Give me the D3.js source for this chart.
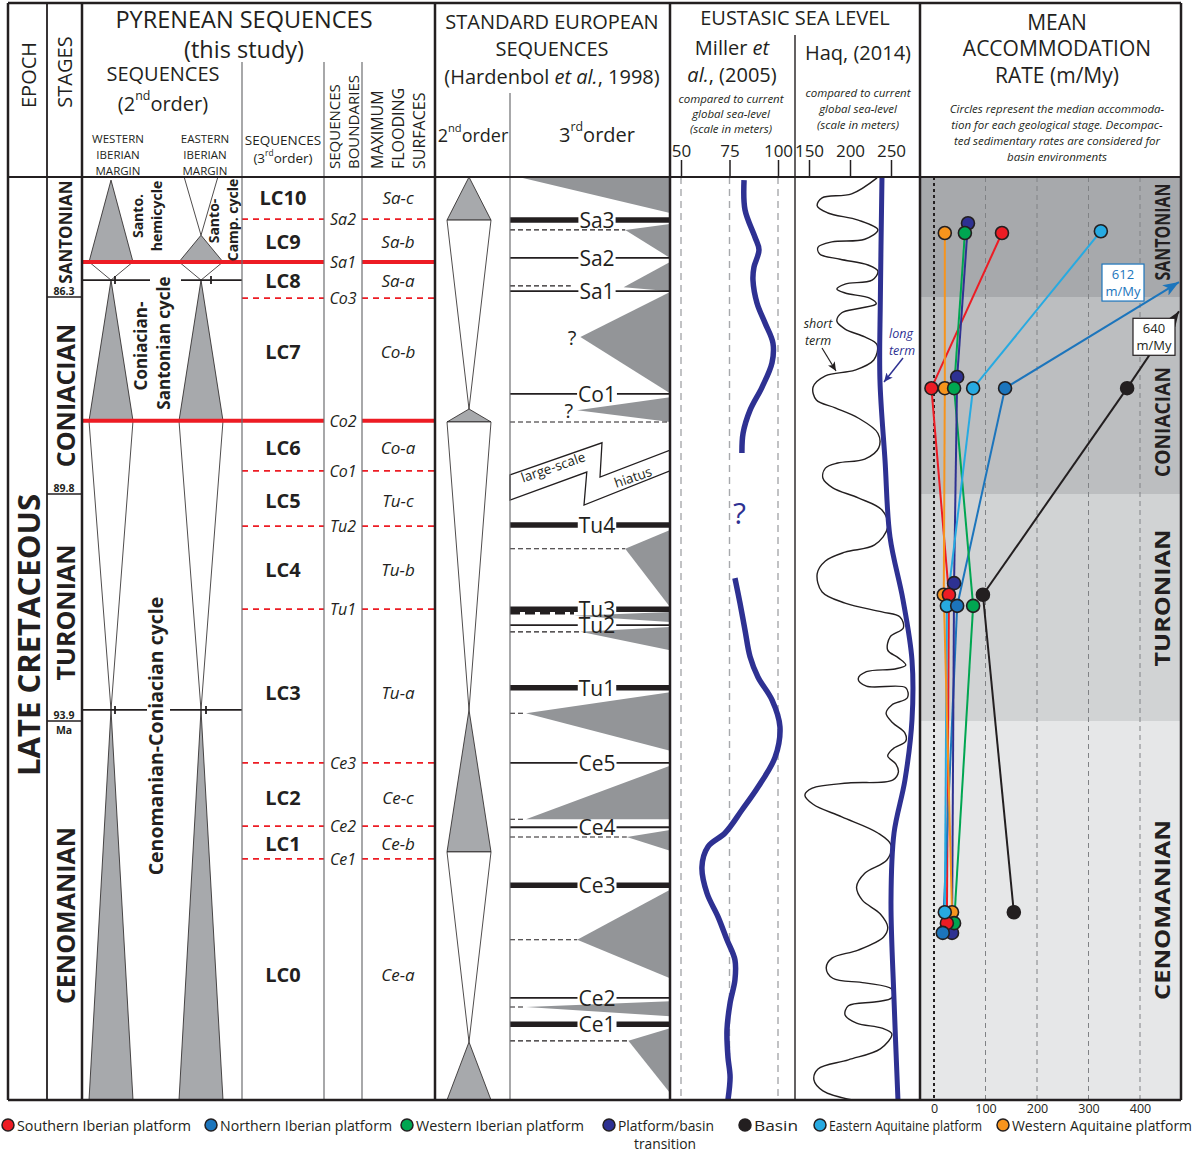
<!DOCTYPE html>
<html>
<head>
<meta charset="utf-8">
<script src="https://cdn.jsdelivr.net/npm/d3@7/dist/d3.min.js"></script>
<style>
html,body{margin:0;padding:0;background:#fff;}
svg{display:block;}
</style>
</head>
<body>
<svg id="chart" width="1200" height="1154"></svg>
<script>
// ====================== DATA (ages in Ma) ======================
const stageNames = ["SANTONIAN","CONIACIAN","TURONIAN","CENOMANIAN"];
const stageTopAges = [83.6, 86.3, 89.8, 93.9];
const stageBaseAges = [86.3, 89.8, 93.9, 100.5];
const stageBoundaryLabels = ["86.3","89.8","93.9"];

// Pyrenean 3rd-order sequences
const pyrSequenceNames = ["LC10","LC9","LC8","LC7","LC6","LC5","LC4","LC3","LC2","LC1","LC0"];
const pyrMfsNames = ["Sa-c","Sa-b","Sa-a","Co-b","Co-a","Tu-c","Tu-b","Tu-a","Ce-c","Ce-b","Ce-a"];
const pyrMfsAges = [84.05,85.04,85.92,87.26,88.96,89.90,91.15,93.38,95.22,96.02,98.31];
const pyrBoundaryNames = ["Sa2","Sa1","Co3","Co2","Co1","Tu2","Tu1","Ce3","Ce2","Ce1"];
const pyrBoundaryAges = [84.55,85.51,86.32,88.50,89.39,90.38,91.88,94.63,95.73,96.30];
const pyrBoundaryMajor = [false,true,false,true,false,false,false,false,false,false];
// Pyrenean 2nd-order hemicycles [topAge, baseAge, kind] T = transgressive (grey), R = regressive (white)
const pyr2ndWestern = [[83.67,85.51,"T"],[85.51,85.92,"R"],[85.92,88.50,"T"],[88.50,93.70,"R"],[93.70,100.5,"T"]];
const pyr2ndEastern = [[83.2,84.91,"R"],[84.91,85.51,"T"],[85.51,85.92,"R"],[85.92,88.50,"T"],[88.50,93.70,"R"],[93.70,100.5,"T"]];
const pyr2ndTurnAges = [85.92, 93.70];

// Standard European sequences (Hardenbol et al., 1998)
const std2nd = [[83.6,84.57,"T"],[84.57,88.29,"R"],[88.29,88.52,"T"],[88.52,93.70,"R"],[93.70,96.18,"T"],[96.18,99.49,"R"],[99.49,100.5,"T"]];
const stdBoundaryNames = ["Sa3","Sa2","Sa1","Co1","Tu4","Tu3","Tu2","Tu1","Ce5","Ce4","Ce3","Ce2","Ce1"];
const stdBoundaryAges = [84.57,85.42,86.17,88.02,90.36,91.88,92.17,93.30,94.63,95.75,96.76,98.72,99.18];
const stdBoundaryMajor = [1,0,0,0,1,1,0,1,0,0,1,0,1];
const stdMfsAges = [84.79,86.05,88.52,90.79,91.95,92.29,93.76,95.61,95.92,97.71,98.88,99.47];
const stdMfsReach = [0.72,0.38,1,0.72,0.40,0.44,0.10,0.10,0.73,0.42,0.10,0.74];
const stdMfsHeavy = [0,0,0,0,1,0,0,0,0,0,0,0];
const stdWedgeApexAge = [83.62,84.79,86.08,87.01,88.31,90.79,92.00,92.29,93.76,95.61,95.92,97.71,98.88,99.47];
const stdWedgeApexPos = [0.08,0.72,0.71,0.44,0.42,0.72,0.40,0.44,0.10,0.10,0.73,0.42,0.10,0.74];
const stdWedgeTopAge  = [83.62,84.66,85.51,86.19,88.08,90.45,91.93,92.20,93.38,94.68,95.80,96.84,98.78,99.25];
const stdWedgeBaseAge = [84.41,85.42,86.17,88.01,88.52,91.84,92.11,92.62,94.42,95.61,96.16,98.38,99.04,100.38];
const stdWedgeUncertain = [0,0,0,1,1,0,0,0,0,0,0,0,0,0];
const stdHiatusPos = [0,0.575,0.5625,1,1,0.4625,0.48,0];
const stdHiatusAge = [89.46,88.89,89.50,89.02,89.39,90.00,89.41,89.91];

// Eustatic sea level, Miller et al. (2005)
const millerTicks = [50,75,100];
const millerUpperAge   = [83.67,84.34,84.95,85.24,85.63,85.92,86.41,86.76,87.12,87.47,87.90,88.31,88.72,89.07];
const millerUpperValue = [82.5,83.0,88.1,90.2,87.6,87.1,89.2,93.3,97.4,96.9,91.8,85.6,82.0,81.4];
const millerLowerAge   = [91.32,91.77,92.26,92.74,93.11,93.52,94.00,94.53,95.05,95.45,95.85,96.09,96.44,96.90,97.31,97.71,98.06,98.41,98.81,99.28,99.75,100.10,100.5];
const millerLowerValue = [77.8,80.4,83.0,85.6,89.7,96.9,101.0,98.5,89.7,81.4,72.7,63.9,60.8,63.4,69.1,73.7,77.8,77.8,75.3,73.7,74.2,75.3,74.2];

// Eustatic sea level, Haq (2014)
const haqTicks = [150,200,250];
const haqLongAge   = [83.62,86.35,87.77,89.20,90.58,91.71,92.80,93.88,94.93,95.85,97.02,98.76,100.5];
const haqLongValue = [239,237,236.5,242.7,248.8,264.6,275.6,275.6,267,253.7,250,253.7,258.5];
const haqShortAge = [83.62,83.98,84.07,84.25,84.41,84.57,84.79,85.00,85.06,85.18,85.33,85.45,85.58,85.72,85.92,86.01,86.12,86.21,86.32,86.42,86.50,86.58,86.73,86.87,87.01,87.15,87.42,87.60,87.70,87.90,88.13,88.27,88.45,88.72,88.98,89.18,89.25,89.34,89.52,89.69,89.87,90.09,90.40,90.72,90.85,91.01,91.24,91.57,91.77,91.93,92.02,92.22,92.38,92.62,92.76,92.89,92.96,93.01,93.14,93.27,93.30,93.48,93.61,93.76,93.93,94.11,94.25,94.39,94.51,94.65,94.79,94.93,94.98,95.07,95.19,95.35,95.57,95.85,96.06,96.32,96.55,96.79,97.02,97.26,97.49,97.66,97.89,98.03,98.20,98.38,98.46,98.57,98.72,98.79,98.86,99.02,99.16,99.25,99.35,99.61,99.80,99.96,100.15,100.34,100.5];
const haqShortValue = [233,202,166,160,173,210,234,218,178,161,163,188,222,234,227,194,184,194,224,232,212,190,184,194,218,233,229,206,170,155,159,182,210,234,235,218,185,170,167,179,210,239,246,230,194,170,160,166,194,239,261,265,249,246,259,268,255,220,210,220,268,270,251,244,252,267,268,252,246,256,259,252,198,154,145,155,190,234,250,245,218,208,215,237,246,241,210,178,171,179,218,251,251,232,198,194,208,239,251,237,198,161,156,167,203];

// Mean accommodation rate (m/My), per stage: Cenomanian, Turonian, Coniacian, Santonian
const accTicks = [0,100,200,300,400];
const accSeriesNames = ["Southern Iberian platform","Northern Iberian platform","Western Iberian platform","Platform/basin transition","Basin","Eastern Aquitaine platform","Western Aquitaine platform"];
const accSeriesColors = ["#ed1c24","#1c75bc","#00a651","#2e3192","#231f20","#27aae1","#f7941d"];
const accSouthernIberian = [25,29,-5,132];
const accNorthernIberian = [17,45,138,612];
const accWesternIberian  = [39,76,39,60];
const accPlatformBasin   = [35,39,45,66];
const accBasin           = [155,95,375,640];
const accEasternAquitaine= [21,25,76,324];
const accWesternAquitaine= [35,19,21,21];
const accSouthernIberianAge = [97.42,91.62,87.92,84.86];
const accNorthernIberianAge = [97.59,91.82,87.92,85.0];
const accWesternIberianAge  = [97.42,91.82,87.92,84.86];
const accPlatformBasinAge   = [97.59,91.41,87.72,84.64];
const accBasinAge           = [97.23,91.62,87.92,83.8];
const accEasternAquitaineAge= [97.23,91.82,87.92,84.82];
const accWesternAquitaineAge= [97.23,91.62,87.92,84.86];

// ====================== DRAWING ======================
const FONT = "'Open Sans','Noto Sans',sans-serif";
const INK = "#231f20";
const svg = d3.select("#chart").attr("font-family", FONT);

const TOP = 3, HEAD = 177, BOT = 1100, LEFT = 8, RIGHT = 1181;
const y = d3.scaleLinear().domain([stageTopAges[0], ...stageBaseAges]).range([HEAD, 297, 494, 721, BOT]);
const xm = d3.scaleLinear().domain([50,100]).range([681,778]);
const xh = d3.scaleLinear().domain([150,250]).range([809,891]);
const xa = d3.scaleLinear().domain([0,400]).range([934,1140]);

const defs = svg.append("defs");
defs.append("clipPath").attr("id","bodyClip").append("rect").attr("x",LEFT).attr("y",HEAD).attr("width",RIGHT-LEFT).attr("height",BOT-HEAD);
function marker(id, color, w, h) {
  defs.append("marker").attr("id",id).attr("viewBox",`0 0 ${w} ${h}`).attr("refX",w).attr("refY",h/2)
    .attr("markerWidth",w).attr("markerHeight",h).attr("markerUnits","userSpaceOnUse").attr("orient","auto")
    .append("path").attr("d",`M0,0L${w},${h/2}L0,${h}L${w*0.25},${h/2}Z`).attr("fill",color);
}

function T(p, x, yy, s, o = {}) {
  const size = o.size || 14;
  const t = p.append("text").attr("x", x).attr("y", yy)
    .attr("text-anchor", o.anchor || "middle")
    .attr("dominant-baseline", o.base || "central")
    .attr("font-size", size)
    .attr("font-weight", o.bold ? 700 : 400)
    .attr("font-style", o.italic ? "italic" : "normal")
    .attr("fill", o.fill || INK);
  if (o.family) t.attr("font-family", o.family);
  if (o.rot) t.attr("transform", `rotate(${o.rot},${x},${yy})`);
  if (o.len) t.attr("textLength", o.len).attr("lengthAdjust", "spacingAndGlyphs");
  const parts = Array.isArray(s) ? s : [{t: s}];
  let shift = 0;
  parts.forEach(pp => {
    const ts = t.append("tspan").text(pp.t);
    if (pp.i) ts.attr("font-style", "italic");
    if (pp.sup) { ts.attr("font-size", size*0.62).attr("dy", -size*0.42); shift = size*0.42; }
    else if (shift) { ts.attr("dy", shift); shift = 0; }
  });
  return t;
}
function line(p, x1, y1, x2, y2, stroke, w, dash) {
  const l = p.append("line").attr("x1",x1).attr("y1",y1).attr("x2",x2).attr("y2",y2)
    .attr("stroke",stroke).attr("stroke-width",w);
  if (dash) l.attr("stroke-dasharray",dash);
  return l;
}

const bg = svg.append("g");
const gc = svg.append("g").attr("clip-path","url(#bodyClip)");
const fg = svg.append("g");

// ---------- accommodation panel background ----------
const bandColors = ["#a7a9ac","#bcbec0","#d1d3d4","#e6e7e8"];
stageNames.forEach((s,i)=>{
  bg.append("rect").attr("x",920).attr("y",y(stageTopAges[i])).attr("width",RIGHT-920)
    .attr("height",y(stageBaseAges[i])-y(stageTopAges[i])).attr("fill",bandColors[i]);
});

// ---------- stages column ----------
const stageLabelSize = [17,25,25,25];
const stageLabelShift = [-5,0,5,5];
stageNames.forEach((s,i)=>{
  const yc = (y(stageTopAges[i])+y(stageBaseAges[i]))/2 + stageLabelShift[i];
  T(fg, 65, yc, s, {size:stageLabelSize[i], bold:1, rot:-90});
});
stageBoundaryLabels.forEach((s,i)=>{
  const yb = y(stageBaseAges[i]);
  line(fg, 47, yb, 82, yb, INK, 1.5);
  T(fg, 64, yb-6, s, {size:10.5, bold:1});
  if (i===2) T(fg, 64, yb+9, "Ma", {size:10.5, bold:1});
});
T(fg, 28, 635, "LATE CRETACEOUS", {size:30, bold:1, rot:-90, len:282});

// ---------- Pyrenean 2nd order ----------
function hemi(p, data, cx, hw, grey) {
  data.forEach(([t,b,k])=>{
    const y0=y(t), y1=y(b);
    const pts = k==="T" ? [[cx,y0],[cx-hw,y1],[cx+hw,y1]] : [[cx-hw,y0],[cx+hw,y0],[cx,y1]];
    p.append("polygon").attr("points",pts.map(d=>d.join(",")).join(" "))
      .attr("fill", k==="T"?grey:"#fff").attr("stroke",INK).attr("stroke-width",0.8);
  });
}
hemi(gc, pyr2ndWestern, 111, 22, "#a7a9ac");
hemi(gc, pyr2ndEastern, 201, 22, "#a7a9ac");
const turnGaps = [[150,181],[147,170]];
pyr2ndTurnAges.forEach((a,i)=>{
  const yy=y(a);
  line(gc, 82, yy, turnGaps[i][0], yy, INK, 1.8);
  line(gc, turnGaps[i][1], yy, 242, yy, INK, 1.8);
  line(gc, 115, yy-4, 115, yy+4, INK, 1.8);
  line(gc, i===0?211:206, yy-4, i===0?211:206, yy+4, INK, 1.8);
});
T(fg,137,216,"Santo.",{size:14,bold:1,rot:-90});
T(fg,156,216,"hemicycle",{size:14,bold:1,rot:-90});
T(fg,213,221,"Santo-",{size:14,bold:1,rot:-90});
T(fg,232,220,"Camp. cycle",{size:14,bold:1,rot:-90});
T(fg,140,346,"Coniacian-",{size:17,bold:1,rot:-90});
T(fg,163,343,"Santonian cycle",{size:17,bold:1,rot:-90});
T(fg,155,736,"Cenomanian-Coniacian cycle",{size:19.5,bold:1,rot:-90});

// ---------- Pyrenean 3rd order, boundaries, MFS ----------
pyrBoundaryAges.forEach((a,i)=>{
  const yy=y(a);
  if (pyrBoundaryMajor[i]) {
    line(gc, 82, yy, 324, yy, "#ed1c24", 4);
    line(gc, 362, yy, 435, yy, "#ed1c24", 4);
  } else {
    line(gc, 242, yy, 324, yy, "#ed1c24", 1.8, "6,5");
    line(gc, 362, yy, 435, yy, "#ed1c24", 1.8, "6,5");
  }
  T(fg, 343, yy, pyrBoundaryNames[i], {size:16, italic:1});
});
pyrSequenceNames.forEach((s,i)=>{
  T(fg, 283, y(pyrMfsAges[i]), s, {size:20, bold:1});
  T(fg, 398, y(pyrMfsAges[i]), pyrMfsNames[i], {size:17, italic:1});
});

// ---------- Standard European 2nd order ----------
hemi(gc, std2nd, 469, 22, "#a7a9ac");

// ---------- Standard European 3rd order ----------
const s3x = d3.scaleLinear().domain([0,1]).range([510,670]);
stdWedgeApexAge.forEach((a,i)=>{
  const pts=[[s3x(stdWedgeApexPos[i]),y(a)],[670,y(stdWedgeTopAge[i])],[670,y(stdWedgeBaseAge[i])]];
  gc.append("polygon").attr("points",pts.map(d=>d.join(",")).join(" ")).attr("fill","#939598");
  if (stdWedgeUncertain[i]) T(gc, s3x(stdWedgeApexPos[i])-4, y(a), "?", {size:20, anchor:"end"});
});
stdMfsAges.forEach((a,i)=>{
  line(gc, 510, y(a), s3x(stdMfsReach[i]), y(a), INK, stdMfsHeavy[i]?3:1.1, stdMfsHeavy[i]?"10,5":"5,3");
});
stdBoundaryAges.forEach((a,i)=>{
  const yy=y(a);
  const t = T(gc, 597, yy, stdBoundaryNames[i], {size:21});
  const w = t.node().getComputedTextLength();
  const lw = stdBoundaryMajor[i] ? 5.5 : 1.8;
  line(gc, 510, yy, 597-w/2-1, yy, INK, lw);
  line(gc, 597+w/2+1, yy, 670, yy, INK, lw);
});
gc.append("polygon").attr("points", stdHiatusAge.map((a,i)=>[s3x(stdHiatusPos[i]),y(a)].join(",")).join(" "))
  .attr("fill","#fff").attr("stroke",INK).attr("stroke-width",1.3);
T(gc, 553, 467, "large-scale", {size:13.5, rot:-19});
T(gc, 633, 477, "hiatus", {size:13.5, rot:-19});

// ---------- Miller sea level ----------
millerTicks.forEach(v=> line(gc, xm(v), HEAD, xm(v), BOT, "#a7a9ac", 1.4, "7,5"));
const mLine = d3.line().x(d=>xm(d[1])).y(d=>y(d[0])).curve(d3.curveCatmullRom.alpha(0.5));
[[millerUpperAge,millerUpperValue],[millerLowerAge,millerLowerValue]].forEach(([A,V])=>{
  gc.append("path").attr("d", mLine(A.map((a,i)=>[a,V[i]]))).attr("fill","none").attr("stroke","#2e3192").attr("stroke-width",5.5);
});
const gapAge = (millerUpperAge[millerUpperAge.length-1]+millerLowerAge[0])/2;
const gapVal = (millerUpperValue[millerUpperValue.length-1]+millerLowerValue[0])/2;
T(gc, xm(gapVal)+1, y(gapAge)-4, "?", {size:30, fill:"#2e3192"});
const axM = fg.append("g").attr("transform",`translate(0,${HEAD})`)
  .call(d3.axisTop(xm).tickValues(millerTicks).tickSize(17).tickPadding(3));
axM.attr("font-family",FONT).attr("font-size",17);
axM.select(".domain").remove();
axM.selectAll("line").attr("stroke",INK).attr("stroke-width",1.5);
axM.selectAll("text").attr("fill",INK);

// ---------- Haq sea level ----------
const hLine = d3.line().x(d=>xh(d[1])).y(d=>y(d[0])).curve(d3.curveCatmullRom.alpha(0.5));
gc.append("path").attr("d", hLine(haqShortAge.map((a,i)=>[a,haqShortValue[i]]))).attr("fill","none").attr("stroke",INK).attr("stroke-width",1.4);
gc.append("path").attr("d", hLine(haqLongAge.map((a,i)=>[a,haqLongValue[i]]))).attr("fill","none").attr("stroke","#2e3192").attr("stroke-width",5);
const axH = fg.append("g").attr("transform",`translate(0,${HEAD})`)
  .call(d3.axisTop(xh).tickValues(haqTicks).tickSize(17).tickPadding(3));
axH.attr("font-family",FONT).attr("font-size",17);
axH.select(".domain").remove();
axH.selectAll("line").attr("stroke",INK).attr("stroke-width",1.5);
axH.selectAll("text").attr("fill",INK);
marker("arrK", INK, 9, 8);
marker("arrN", "#2e3192", 9, 8);
T(gc, 818, 323, "short", {size:12.5, italic:1});
T(gc, 818, 340, "term", {size:12.5, italic:1});
line(gc, 822, 348, 836, 371, INK, 1.2).attr("marker-end","url(#arrK)");
T(gc, 901, 333, "long", {size:12.5, italic:1, fill:"#2e3192"});
T(gc, 902, 350, "term", {size:12.5, italic:1, fill:"#2e3192"});
line(gc, 903, 358, 884, 382, "#2e3192", 1.5).attr("marker-end","url(#arrN)");

// ---------- Accommodation panel ----------
line(gc, xa(0), HEAD, xa(0), BOT, INK, 2, "3,3");
accTicks.slice(1).forEach(v=> line(gc, xa(v), HEAD, xa(v), BOT, "#808285", 1, "5,4"));
const accAxis = fg.append("g").attr("transform",`translate(0,${BOT})`)
  .call(d3.axisBottom(xa).tickValues(accTicks).tickSize(0).tickPadding(4));
accAxis.attr("font-family",FONT).attr("font-size",12.5);
accAxis.select(".domain").remove();
accAxis.selectAll("text").attr("fill",INK);
const accLabelY = [232, 422, 598, 910];
const accLabelLen = [97, 110, 137, 180];
stageNames.forEach((s,i)=> T(fg, 1162, accLabelY[i], s, {size:21, bold:1, rot:-90, len:accLabelLen[i]}));

const accVals = [accSouthernIberian,accNorthernIberian,accWesternIberian,accPlatformBasin,accBasin,accEasternAquitaine,accWesternAquitaine];
const accAges = [accSouthernIberianAge,accNorthernIberianAge,accWesternIberianAge,accPlatformBasinAge,accBasinAge,accEasternAquitaineAge,accWesternAquitaineAge];
const accTable = accSeriesNames.map((n,k)=>({name:n, color:accSeriesColors[k], pts: accVals[k].map((v,i)=>({v, a:accAges[k][i]}))}));
const xMaxPix = RIGHT - 2;
const offChart = [];
accTable.forEach((s,k)=>{
  marker("arr"+k, s.color, 16, 12);
  for (let i=0;i<s.pts.length-1;i++){
    const p0=s.pts[i], p1=s.pts[i+1];
    const x0=xa(p0.v), y0=y(p0.a);
    let x1=xa(p1.v), y1=y(p1.a);
    const l = gc.append("line").attr("stroke",s.color).attr("stroke-width",2);
    if (x1 > xMaxPix) {
      const t=(xMaxPix-x0)/(x1-x0); y1=y0+(y1-y0)*t; x1=xMaxPix;
      l.attr("marker-end","url(#arr"+k+")");
      offChart.push({v:p1.v, x:x1, y:y1, color:s.color});
    }
    l.attr("x1",x0).attr("y1",y0).attr("x2",x1).attr("y2",y1);
  }
});
const drawOrder = [6,3,2,0,5,1,4];
drawOrder.forEach(k=>{
  const s = accTable[k];
  s.pts.filter(p=>xa(p.v)<=xMaxPix).forEach(p=>{
    gc.append("circle").attr("cx",xa(p.v)).attr("cy",y(p.a)).attr("r",6.5)
      .attr("fill",s.color).attr("stroke",INK).attr("stroke-width",1.6);
  });
});
offChart.forEach(o=>{
  const isBlue = o.color !== INK;
  const cx = isBlue ? o.x-56 : o.x-25, cy = isBlue ? o.y : o.y+25;
  fg.append("rect").attr("x",cx-21).attr("y",cy-18).attr("width",42).attr("height",37)
    .attr("fill","#fff").attr("stroke",o.color).attr("stroke-width",1.2);
  T(fg, cx, cy-8, String(o.v), {size:13, fill:o.color});
  T(fg, cx, cy+9, "m/My", {size:13, fill:o.color});
});

// ---------- Headers ----------
T(fg,28,75,"EPOCH",{size:20,rot:-90});
T(fg,64,72,"STAGES",{size:20,rot:-90});
T(fg,244,19,"PYRENEAN SEQUENCES",{size:23.5});
T(fg,244,49,"(this study)",{size:23.5});
T(fg,163,73,"SEQUENCES",{size:20});
T(fg,163,103,[{t:"(2"},{t:"nd",sup:1},{t:"order)"}],{size:20});
["WESTERN","IBERIAN","MARGIN"].forEach((s,i)=>T(fg,118,138+i*16,s,{size:11.5}));
["EASTERN","IBERIAN","MARGIN"].forEach((s,i)=>T(fg,205,138+i*16,s,{size:11.5}));
T(fg,283,140,"SEQUENCES",{size:13.5});
T(fg,283,158,[{t:"(3"},{t:"rd",sup:1},{t:"order)"}],{size:13.5});
T(fg,334,169,"SEQUENCES",{size:15,rot:-90,anchor:"start"});
T(fg,353,169,"BOUNDARIES",{size:15,rot:-90,anchor:"start"});
T(fg,377,169,"MAXIMUM",{size:16,rot:-90,anchor:"start"});
T(fg,398,169,"FLOODING",{size:16,rot:-90,anchor:"start"});
T(fg,419,169,"SURFACES",{size:16,rot:-90,anchor:"start"});
T(fg,552,21,"STANDARD EUROPEAN",{size:20});
T(fg,552,48,"SEQUENCES",{size:20});
T(fg,552,76,[{t:"(Hardenbol "},{t:"et al.",i:1},{t:", 1998)"}],{size:20});
T(fg,473,135,[{t:"2"},{t:"nd",sup:1},{t:"order"}],{size:18});
T(fg,597,134,[{t:"3"},{t:"rd",sup:1},{t:"order"}],{size:20});
T(fg,795,17,"EUSTASIC SEA LEVEL",{size:20});
T(fg,732,47,[{t:"Miller "},{t:"et",i:1}],{size:20});
T(fg,732,74,[{t:"al.",i:1},{t:", (2005)"}],{size:20});
T(fg,858,52,"Haq, (2014)",{size:20});
["compared to current","global sea-level","(scale in meters)"].forEach((s,i)=>T(fg,731,98+i*15,s,{size:11.5,italic:1}));
["compared to current","global sea-level","(scale in meters)"].forEach((s,i)=>T(fg,858,92+i*16,s,{size:11.5,italic:1}));
T(fg,1057,22,"MEAN",{size:21});
T(fg,1057,48,"ACCOMMODATION",{size:21});
T(fg,1057,75,"RATE (m/My)",{size:21});
["Circles represent the median accommoda-","tion for each geological stage. Decompac-","ted sedimentary rates are considered for","basin environments"]
  .forEach((s,i)=>T(fg,1057,108+i*16,s,{size:11.5,italic:1}));

// ---------- Frame ----------
const thick = [8,47,82,435,670,920,RIGHT];
thick.forEach(x=> line(fg, x, TOP, x, BOT, INK, x===47?1.8:2.5));
line(fg, 242, 62, 242, BOT, "#6d6e71", 1.2);
line(fg, 324, 62, 324, BOT, "#6d6e71", 1.2);
line(fg, 362, 62, 362, BOT, "#6d6e71", 1.2);
line(fg, 510, 93, 510, BOT, "#6d6e71", 1.2);
line(fg, 795, 35, 795, BOT, INK, 1.4);
line(fg, LEFT, TOP, RIGHT, TOP, INK, 2.5);
line(fg, LEFT, HEAD, RIGHT, HEAD, INK, 2.2);
line(fg, LEFT, BOT, RIGHT, BOT, INK, 2.5);

// ---------- Legend ----------
const legendX = [8,211,407,609,745,820,1003];
const legendLen = [174,172,168,96,44,153,180];
accTable.forEach((s,k)=>{
  fg.append("circle").attr("cx",legendX[k]).attr("cy",1125).attr("r",6).attr("fill",s.color).attr("stroke",INK).attr("stroke-width",1.5);
  if (k===3) {
    T(fg, legendX[k]+9, 1125, "Platform/basin", {size:14.5, anchor:"start", len:legendLen[k]});
    T(fg, legendX[k]+56, 1143, "transition", {size:14.5, len:62});
  } else {
    T(fg, legendX[k]+9, 1125, s.name, {size:14.5, anchor:"start", len:legendLen[k]});
  }
});
</script>
</body>
</html>
